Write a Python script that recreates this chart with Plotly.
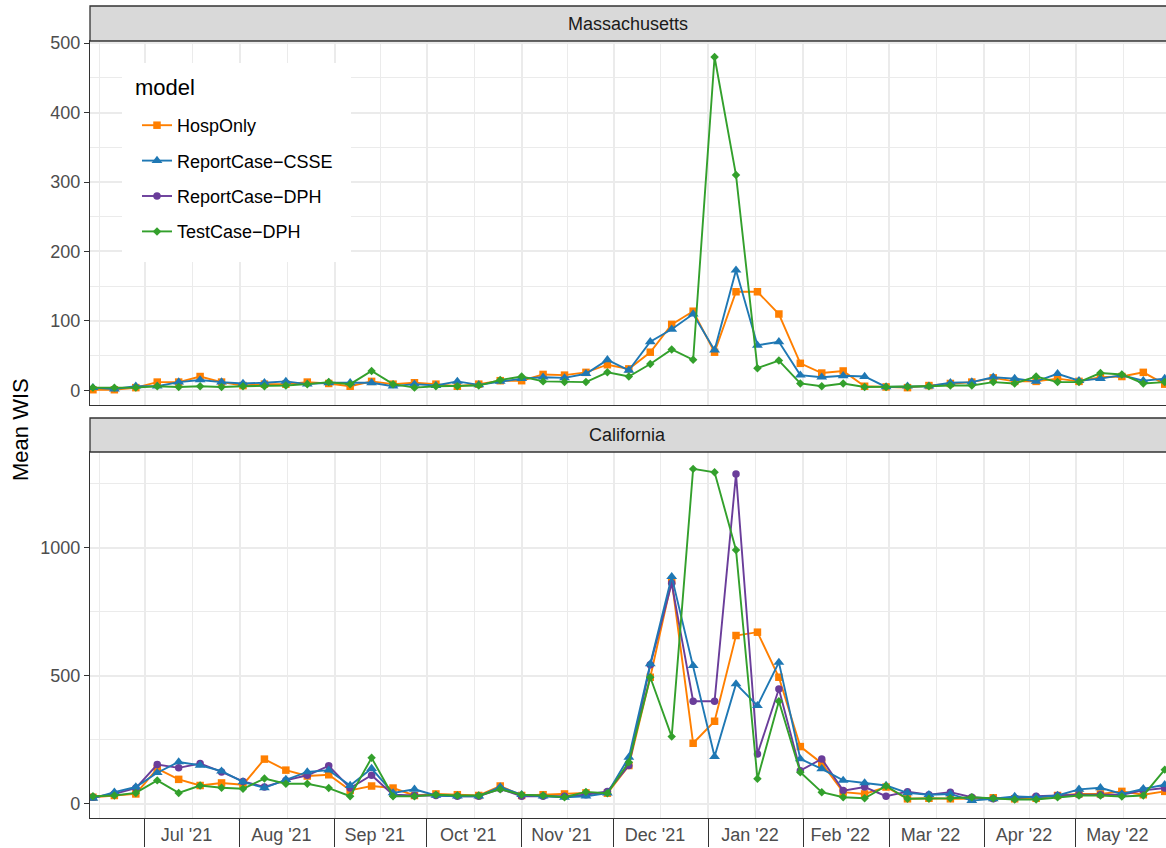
import pandas as pd
import plotly.graph_objects as go

# weekly forecast dates (Mondays)
dates = pd.date_range("2021-06-14", periods=51, freq="7D")

models = ["HospOnly", "ReportCase−CSSE", "ReportCase−DPH", "TestCase−DPH"]

# Massachusetts mean WIS
ma_hosp = [1, 1, 4, 12, 12, 20, 12, 7, 9, 9, 12, 10, 6, 13, 9, 11, 9, 6, 9,
           14, 14, 23, 22, 26, 37, 31, 55, 95, 114, 55, 142, 142, 110, 39, 25, 28, 6,
           5, 4, 7, 10, 12, 18, 13, 13, 17, 13, 19, 20, 26, 9]
ma_csse = [4, 2, 6, 6, 12, 15, 12, 10, 11, 13, 9, 11, 11, 11, 6, 9, 7, 13, 8,
           13, 17, 19, 18, 24, 44, 29, 70, 88, 110, 58, 173, 65, 70, 22, 19, 21, 20,
           5, 6, 6, 11, 12, 19, 17, 13, 24, 14, 17, 22, 14, 17]
ma_test = [4, 4, 4, 6, 5, 6, 5, 6, 6, 7, 9, 12, 9, 28, 9, 4, 6, 6, 7,
           15, 20, 13, 12, 12, 26, 20, 38, 59, 44, 480, 310, 32, 43, 10, 6, 10, 5,
           5, 5, 6, 7, 7, 12, 10, 20, 12, 12, 25, 23, 10, 12]

# California mean WIS
ca_hosp = [26, 33, 39, 138, 96, 72, 82, 75, 175, 132, 109, 114,
           53, 70, 62, 33, 39, 36, 33, 70, 33, 36, 39, 43,
           42, 150, 495, 872, 237, 323, 658, 671, 495, 224, 159,
           46, 39, 66, 20, 22, 20, 20, 24, 20, 22, 33, 39, 39, 49, 36, 49]
ca_csse = [22, 46, 66, 122, 164, 151, 128, 86, 63, 95, 125, 132,
           72, 138, 43, 57, 33, 30, 30, 66, 36, 30, 26, 30,
           42, 182, 547, 888, 540, 185, 469, 384, 553, 176, 137,
           92, 82, 72, 43, 36, 39, 13, 20, 29, 26, 33, 57, 63, 39, 59, 75]
ca_dph = [26, 39, 62, 154, 141, 158, 125, 88, 66, 92, 112, 149,
          62, 112, 36, 33, 33, 30, 30, 59, 30, 30, 30, 36,
          49, 150, 544, 862, 401, 401, 1289, 195, 449, 130, 176,
          52, 66, 30, 48, 36, 46, 26, 20, 22, 30, 33, 36, 36, 36, 53, 62]
ca_test = [30, 33, 43, 92, 43, 72, 63, 59, 99, 79, 79, 62,
           30, 180, 30, 30, 36, 33, 33, 57, 36, 33, 26, 47,
           42, 163, 495, 263, 1309, 1296, 992, 98, 401, 124, 46,
           26, 22, 70, 20, 20, 22, 26, 22, 17, 17, 26, 33, 33, 29, 33, 134]

# month boundaries and mid-month label positions (June left unlabelled)
month_starts = pd.date_range("2021-06-01", "2022-06-01", freq="MS")
month_mids = month_starts[:-1] + (month_starts[1:] - month_starts[:-1]) / 2
month_labels = [""] + [d.strftime("%b '%y") for d in month_starts[1:-1]]

# look of each model: colour, marker, size, legend rank
style = {
    "HospOnly": ("#FF7F00", "square", 7.5, 1),
    "ReportCase−CSSE": ("#1F78B4", "triangle-up", 9.5, 2),
    "ReportCase−DPH": ("#6A3D9A", "circle", 7.5, 3),
    "TestCase−DPH": ("#33A02C", "diamond", 6.5, 4),
}

panels = [
    ("x", "y", {"HospOnly": ma_hosp, "ReportCase−CSSE": ma_csse, "TestCase−DPH": ma_test}, False),
    ("x2", "y2", {"HospOnly": ca_hosp, "ReportCase−DPH": ca_dph,
                  "ReportCase−CSSE": ca_csse, "TestCase−DPH": ca_test}, True),
]

fig = go.Figure()
for xa, ya, series, legend in panels:
    for m in ["HospOnly", "ReportCase−DPH", "ReportCase−CSSE", "TestCase−DPH"]:
        if m not in series:
            continue
        col, sym, sz, rank = style[m]
        fig.add_trace(go.Scatter(
            x=dates, y=series[m], mode="lines+markers", name=m,
            xaxis=xa, yaxis=ya, legendgroup=m, showlegend=legend, legendrank=rank,
            line=dict(color=col, width=1.9),
            marker=dict(color=col, symbol=sym, size=sz, line=dict(width=0)),
        ))

# body margin is removed in post_script, so paper == page pixels
W, H = 1166, 848


def px(v):
    return v / W


def py(v):
    return 1 - v / H


left = px(90)
top_dom = [py(405), py(41)]
bot_dom = [py(818), py(452)]
grid = "#EBEBEB"
border = "#333333"
FONT = "Liberation Sans, Arial, sans-serif"
tickfont = dict(family=FONT, size=18, color="#4D4D4D")
xrange = ["2021-06-13 01:00", "2022-05-30 10:00"]

xcommon = dict(
    range=xrange, domain=[left, 1], tickmode="array", tickvals=month_mids,
    ticktext=month_labels, showgrid=True, gridcolor=grid, gridwidth=0.8, ticks="",
    showline=True, mirror=True, linecolor=border, linewidth=1.3,
    zeroline=False, automargin=False,
)
fig.update_layout(
    xaxis=dict(xcommon, anchor="y", matches="x2", showticklabels=False,
               minor=dict(tickmode="array", tickvals=month_starts, showgrid=True,
                          gridcolor=grid, gridwidth=1.6, ticks="")),
    xaxis2=dict(xcommon, anchor="y2", tickfont=tickfont, ticklabelshift=-6,
                ticklabelstandoff=0,
                minor=dict(tickmode="array", tickvals=month_starts, showgrid=True,
                           gridcolor=grid, gridwidth=1.6, ticks="outside", ticklen=28,
                           tickwidth=1.3, tickcolor=border)),
)

ycommon = dict(
    showgrid=True, gridcolor=grid, gridwidth=1.6, zeroline=False,
    showline=True, mirror=False, linecolor=border, linewidth=1.3,
    ticks="outside", ticklen=5, tickwidth=1.3, tickcolor=border,
    tickfont=tickfont, automargin=False, tickmode="linear", tick0=0,
)
fig.update_layout(
    yaxis=dict(ycommon, domain=top_dom, anchor="x", range=[-21, 503], dtick=100,
               minor=dict(dtick=50, tick0=0, showgrid=True, gridcolor=grid, gridwidth=0.8)),
    yaxis2=dict(ycommon, domain=bot_dom, anchor="x2", range=[-55, 1375], dtick=500,
                minor=dict(dtick=250, tick0=0, showgrid=True, gridcolor=grid, gridwidth=0.8)),
)

# facet strips
strips = [("Massachusetts", top_dom[1], py(6)), ("California", bot_dom[1], py(418))]
for label, y0, y1 in strips:
    fig.add_shape(type="rect", xref="paper", yref="paper", x0=left, x1=1.02, y0=y0, y1=y1,
                  fillcolor="#D9D9D9", line=dict(color=border, width=1.3), layer="above")
    fig.add_annotation(text=label, xref="paper", yref="paper", x=(left + 1) / 2, y=(y0 + y1) / 2,
                       showarrow=False, xanchor="center", yanchor="middle",
                       font=dict(family=FONT, size=18, color="#1A1A1A"))

# white legend box over the gridlines (legend itself is drawn on top of it)
fig.add_shape(type="rect", xref="paper", yref="paper",
              x0=px(122), x1=px(351), y0=py(262), y1=py(63),
              fillcolor="white", line=dict(width=0), layer="above")
fig.add_annotation(text="model", xref="paper", yref="paper", x=px(133), y=py(88),
                   showarrow=False, xanchor="left", yanchor="middle",
                   font=dict(family=FONT, size=22, color="black"))

fig.add_annotation(text="Mean WIS", xref="paper", yref="paper", x=px(20), y=py(430),
                   textangle=-90, showarrow=False, xanchor="center", yanchor="middle",
                   font=dict(family=FONT, size=22, color="black"))

fig.update_layout(
    width=W, height=H, margin=dict(l=0, r=0, t=0, b=0),
    paper_bgcolor="white", plot_bgcolor="white",
    font=dict(family=FONT),
    legend=dict(
        x=px(137), y=py(107), xanchor="left", yanchor="top",
        bgcolor="rgba(0,0,0,0)", borderwidth=0, tracegroupgap=9,
        font=dict(size=18, color="black"), itemwidth=30,
    ),
)

fig.write_html("out.html", config={"displayModeBar": False},
               post_script="document.body.style.margin='0';document.body.style.overflow='hidden';")
